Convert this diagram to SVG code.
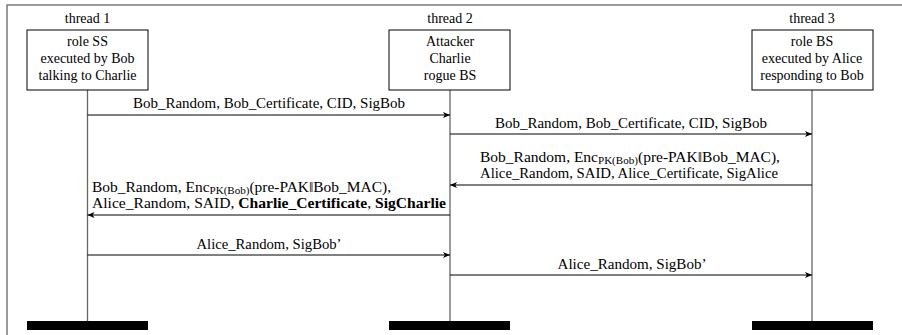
<svg xmlns="http://www.w3.org/2000/svg" width="902" height="335" viewBox="0 0 902 335">
<style>
text{font-family:"Liberation Serif","Times New Roman",Times,"Nimbus Roman","Noto Serif","DejaVu Serif",FreeSerif,serif;font-size:14px;fill:#000}
.c{text-anchor:middle}
.box{fill:#fff;stroke:#000;stroke-width:1}
.life{stroke:#666;stroke-width:1.3;fill:none}
.bar{fill:#000}
.msg{stroke:#000;stroke-width:1;fill:none;marker-end:url(#ah)}
.sub{font-size:10px}
.b{font-weight:bold}
</style>
<defs>
<marker id="ah" markerWidth="8" markerHeight="6" refX="7" refY="3" orient="auto" markerUnits="userSpaceOnUse">
<path d="M0,0 L7,3 L0,6 L1.8,3 Z" fill="#000"/>
</marker>
</defs>
<rect x="7" y="5" width="1000" height="1000" fill="none" stroke="#666" stroke-width="1.3"/>
<g id="thread1">
<line class="life" x1="87.5" y1="90" x2="87.5" y2="321"/>
<text class="c" x="87.5" y="23">thread 1</text>
<rect class="box" x="27" y="30" width="121" height="60"/>
<text class="c" x="87.5" y="46">role SS</text>
<text class="c" x="87.5" y="63">executed by Bob</text>
<text class="c" x="87.5" y="80">talking to Charlie</text>
<rect class="bar" x="27" y="321" width="121" height="9"/>
</g>
<g id="thread2">
<line class="life" x1="450" y1="90" x2="450" y2="321"/>
<text class="c" x="450" y="23">thread 2</text>
<rect class="box" x="389" y="30" width="121" height="60"/>
<text class="c" x="450" y="46">Attacker</text>
<text class="c" x="450" y="63">Charlie</text>
<text class="c" x="450" y="80">rogue BS</text>
<rect class="bar" x="389" y="321" width="121" height="9"/>
</g>
<g id="thread3">
<line class="life" x1="812" y1="90" x2="812" y2="321"/>
<text class="c" x="812" y="23">thread 3</text>
<rect class="box" x="752" y="30" width="121" height="60"/>
<text class="c" x="812" y="46">role BS</text>
<text class="c" x="812" y="63">executed by Alice</text>
<text class="c" x="812" y="80">responding to Bob</text>
<rect class="bar" x="752" y="321" width="121" height="9"/>
</g>
<g id="connectors">
<line class="msg" x1="87.5" y1="115" x2="450" y2="115"/>
<text class="c" x="269" y="108" textLength="272" lengthAdjust="spacingAndGlyphs">Bob_Random, Bob_Certificate, CID, SigBob</text>
<line class="msg" x1="450" y1="134" x2="812" y2="134"/>
<text class="c" x="631" y="128" textLength="272" lengthAdjust="spacingAndGlyphs">Bob_Random, Bob_Certificate, CID, SigBob</text>
<line class="msg" x1="812" y1="185" x2="450" y2="185"/>
<text x="480" y="162" textLength="300" lengthAdjust="spacingAndGlyphs">Bob_Random, Enc<tspan class="sub" dy="2">PK(Bob)</tspan><tspan dy="-2">(pre-PAK‖Bob_MAC),</tspan></text>
<text x="480" y="178" textLength="298" lengthAdjust="spacingAndGlyphs">Alice_Random, SAID, Alice_Certificate, SigAlice</text>
<line class="msg" x1="450" y1="215" x2="87.5" y2="215"/>
<text x="92" y="192" textLength="299" lengthAdjust="spacingAndGlyphs">Bob_Random, Enc<tspan class="sub" dy="2">PK(Bob)</tspan><tspan dy="-2">(pre-PAK‖Bob_MAC),</tspan></text>
<text x="92" y="208" textLength="354" lengthAdjust="spacingAndGlyphs">Alice_Random, SAID, <tspan class="b">Charlie_Certificate</tspan>, <tspan class="b">SigCharlie</tspan></text>
<line class="msg" x1="87.5" y1="255" x2="450" y2="255"/>
<text class="c" x="269" y="249" textLength="145" lengthAdjust="spacingAndGlyphs">Alice_Random, SigBob’</text>
<line class="msg" x1="450" y1="275" x2="812" y2="275"/>
<text class="c" x="632" y="269" textLength="149" lengthAdjust="spacingAndGlyphs">Alice_Random, SigBob’</text>
</g>
</svg>
